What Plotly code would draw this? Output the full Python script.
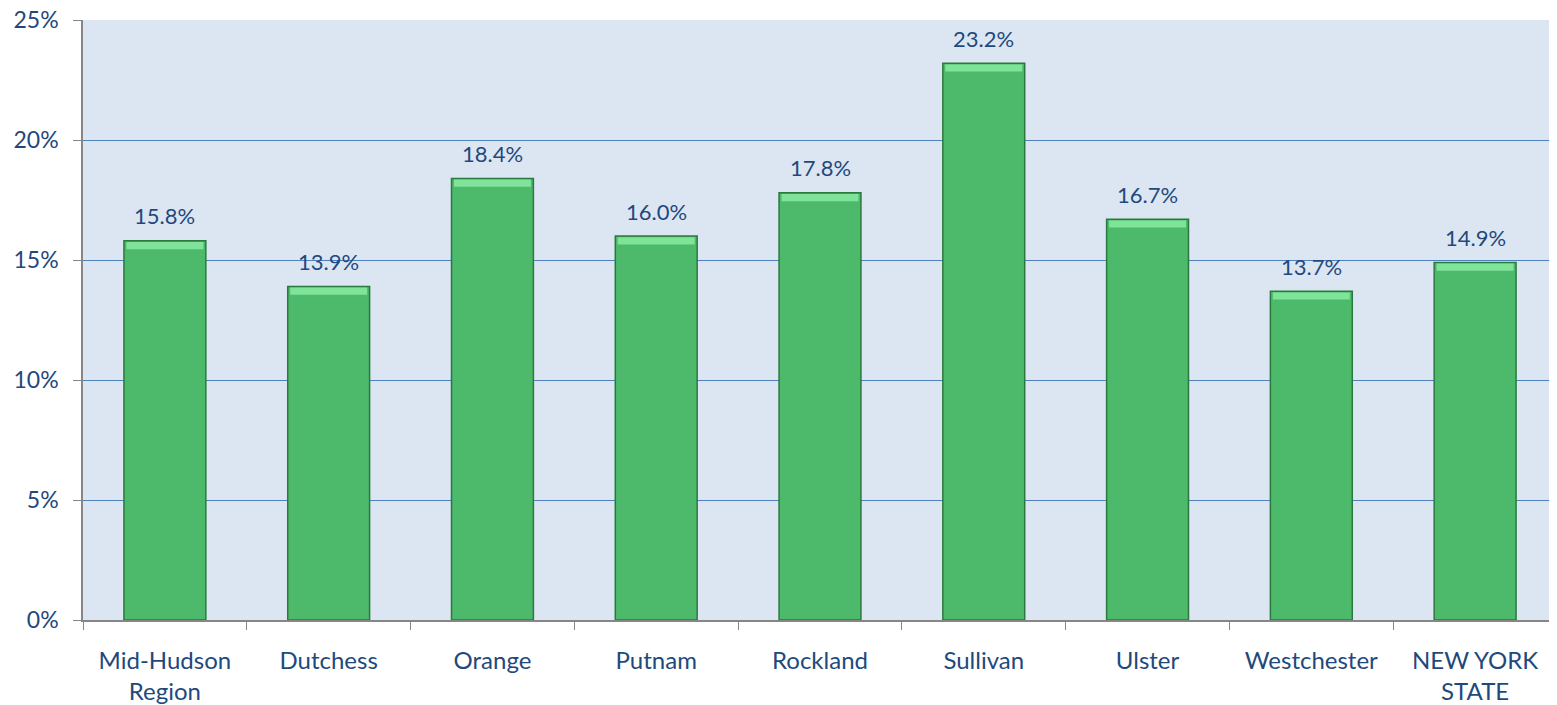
import plotly.graph_objects as go

# Categories and values
REGIONS = [
    "Mid-Hudson<br>Region",
    "Dutchess",
    "Orange",
    "Putnam",
    "Rockland",
    "Sullivan",
    "Ulster",
    "Westchester",
    "NEW YORK<br>STATE",
]
RATES = [15.8, 13.9, 18.4, 16.0, 17.8, 23.2, 16.7, 13.7, 14.9]
Y_TICKS = [0, 5, 10, 15, 20, 25]

TEXT_COLOR = "#1f497d"
GRID_COLOR = "#4f81bd"
BG_COLOR = "#dce6f2"
FONT = "Lato, 'Open Sans', sans-serif"

fig = go.Figure()

fig.add_trace(
    go.Bar(
        x=REGIONS,
        y=RATES,
        width=0.5,
        marker=dict(color="#4cb96b", line=dict(color="#2b7a3d", width=1.5)),
        showlegend=False,
    )
)

# light band on the top of each bar, like the bevel in the original
fig.add_trace(
    go.Bar(
        x=REGIONS,
        y=[0.3] * len(RATES),
        base=[v - 0.35 for v in RATES],
        width=0.47,
        marker=dict(color="#7fe39a", line=dict(width=0)),
        hoverinfo="skip",
        showlegend=False,
    )
)

# data labels, floating a bit above the bars
for region, v in zip(REGIONS, RATES):
    fig.add_annotation(
        x=region,
        y=v,
        text=f"{v:.1f}%",
        showarrow=False,
        yshift=25,
        font=dict(family=FONT, size=22, color=TEXT_COLOR),
    )

# page body has an 8px margin, so the figure is shrunk/offset to compensate
fig.update_layout(
    width=1549,
    height=697,
    barmode="overlay",
    margin=dict(l=75, r=0, t=12, b=85),
    paper_bgcolor="white",
    plot_bgcolor=BG_COLOR,
    font=dict(family=FONT, size=22, color=TEXT_COLOR),
)

fig.update_xaxes(
    automargin=False,
    showline=True,
    linecolor="#868686",
    linewidth=1.5,
    ticks="outside",
    tickson="boundaries",
    ticklen=8,
    tickcolor="#868686",
    tickfont=dict(size=24, color=TEXT_COLOR),
    ticklabelstandoff=18,
    showgrid=False,
)

fig.update_yaxes(
    automargin=False,
    range=[0, 25],
    tickvals=Y_TICKS,
    ticktext=[f"{t}%" for t in Y_TICKS],
    showline=True,
    linecolor="#868686",
    linewidth=1.5,
    ticks="outside",
    ticklen=8,
    tickcolor="#868686",
    gridcolor=GRID_COLOR,
    gridwidth=1.2,
    zeroline=False,
    tickfont=dict(size=23, color=TEXT_COLOR),
    ticklabelstandoff=10,
    ticklabeloverflow="allow",
)

fig.write_html("out.html")
